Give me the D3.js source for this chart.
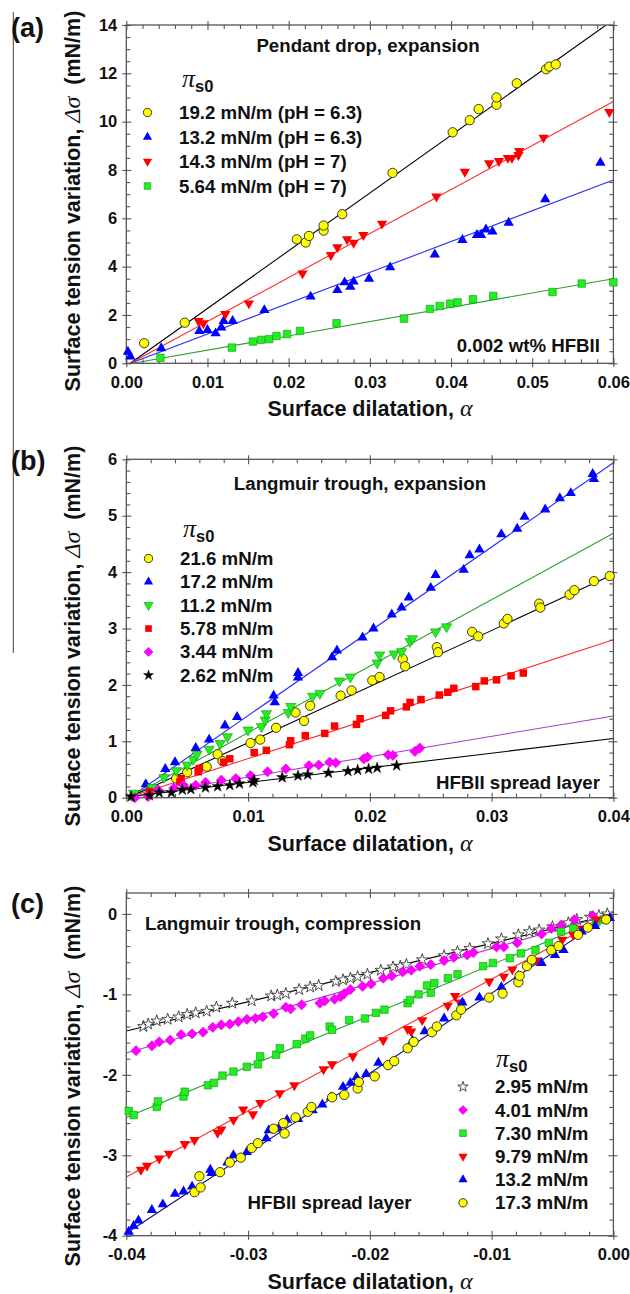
<!DOCTYPE html>
<html><head><meta charset="utf-8">
<script src="https://cdn.jsdelivr.net/npm/d3@7"></script>
<style>
body{margin:0;background:#fff}
svg{display:block}
text{font-family:"Liberation Sans",Arial,sans-serif;font-weight:bold;fill:#111}
</style>
</head><body><svg id="chart" width="630" height="1294"></svg>
<script>
// ---------------- DATA ----------------
// Panel (a): pendant drop, expansion
const aXTicks = [0, 0.01, 0.02, 0.03, 0.04, 0.05, 0.06];
const aYTicks = [0, 2, 4, 6, 8, 10, 12, 14];
const aLegend = ["19.2 mN/m (pH = 6.3)", "13.2 mN/m (pH = 6.3)", "14.3 mN/m (pH = 7)", "5.64 mN/m (pH = 7)"];
const aYellow = [[0.0022,0.83],[0.0072,1.68],[0.0210,5.13],[0.0221,5.0],[0.0225,5.27],[0.0243,5.49],[0.0243,5.7],[0.0266,6.17],[0.0328,7.88],[0.0402,9.56],[0.0423,10.06],[0.0434,10.52],[0.0456,10.7],[0.0456,11.0],[0.0481,11.59],[0.0517,12.17],[0.0521,12.28],[0.0529,12.37]];
const aBlue = [[0.0002,0.48],[0.0005,0.28],[0.0043,0.62],[0.0090,1.34],[0.0100,1.38],[0.0110,1.24],[0.0117,1.48],[0.0120,1.75],[0.0131,1.75],[0.0170,2.2],[0.0227,2.76],[0.0260,3.03],[0.0269,3.35],[0.0276,3.17],[0.0280,3.38],[0.0299,3.5],[0.0325,3.97],[0.0380,4.5],[0.0414,5.1],[0.0432,5.31],[0.0437,5.31],[0.0443,5.54],[0.0451,5.45],[0.0471,5.82],[0.0516,6.79],[0.0584,8.3]];
const aRed = [[0.0089,1.75],[0.0095,1.66],[0.0122,2.04],[0.0151,2.48],[0.0217,3.72],[0.0252,4.48],[0.0260,4.8],[0.0272,5.13],[0.0280,4.99],[0.0292,5.31],[0.0315,5.78],[0.0382,6.9],[0.0417,7.93],[0.0447,8.28],[0.0459,8.37],[0.0470,8.5],[0.0475,8.5],[0.0483,8.62],[0.0484,8.79],[0.0514,9.34],[0.0595,10.4]];
const aGreen = [[0.0042,0.23],[0.0130,0.65],[0.0156,0.9],[0.0166,0.97],[0.0176,1.0],[0.0185,1.13],[0.0198,1.21],[0.0214,1.34],[0.0259,1.66],[0.0342,1.85],[0.0374,2.25],[0.0386,2.37],[0.0399,2.47],[0.0408,2.52],[0.0427,2.65],[0.0452,2.79],[0.0525,2.95],[0.0561,3.3],[0.0600,3.35]];
// fit lines [x0, y0, x1, y1]
const aFitYellow = [0.0005, 0, 0.0591, 14];
const aFitBlue = [0.0005, 0, 0.06, 7.59];
const aFitRed = [0.0005, 0, 0.06, 10.83];
const aFitGreen = [0.0008, 0, 0.06, 3.5];

// Panel (b): Langmuir trough, expansion
const bXTicks = [0, 0.01, 0.02, 0.03, 0.04];
const bYTicks = [0, 1, 2, 3, 4, 5, 6];
const bLegend = ["21.6 mN/m", "17.2 mN/m", "11.2 mN/m", "5.78 mN/m", "3.44 mN/m", "2.62 mN/m"];
const bYellow = [[0.0006,0.02],[0.0041,0.34],[0.0050,0.45],[0.0066,0.55],[0.0075,0.77],[0.0079,0.65],[0.0102,0.97],[0.0110,1.03],[0.0123,1.24],[0.0139,1.51],[0.0146,1.36],[0.0151,1.63],[0.0176,1.81],[0.0185,1.9],[0.0202,2.08],[0.0208,2.14],[0.0227,2.46],[0.0229,2.33],[0.0255,2.67],[0.0256,2.58],[0.0284,2.94],[0.0289,2.86],[0.0310,3.09],[0.0313,3.17],[0.0339,3.44],[0.0340,3.37],[0.0364,3.6],[0.0368,3.68],[0.0384,3.84],[0.0397,3.93]];
const bBlue = [[0.0016,0.24],[0.0032,0.51],[0.0040,0.63],[0.0057,0.88],[0.0068,1.03],[0.0081,1.28],[0.0091,1.43],[0.0121,1.81],[0.0122,1.69],[0.0141,2.21],[0.0141,2.13],[0.0169,2.49],[0.0173,2.61],[0.0194,2.84],[0.0203,3.0],[0.0218,3.25],[0.0226,3.37],[0.0232,3.55],[0.0250,3.72],[0.0254,3.95],[0.0277,4.04],[0.0282,4.3],[0.0290,4.4],[0.0308,4.67],[0.0321,4.77],[0.0327,4.98],[0.0344,5.11],[0.0356,5.31],[0.0365,5.4],[0.0383,5.74],[0.0384,5.65]];
const bGreen = [[0.0006,0.08],[0.0021,0.18],[0.0031,0.36],[0.0041,0.48],[0.0050,0.58],[0.0055,0.68],[0.0058,0.77],[0.0068,0.86],[0.0077,0.96],[0.0083,1.08],[0.0100,1.2],[0.0111,1.26],[0.0114,1.38],[0.0115,1.49],[0.0133,1.51],[0.0135,1.62],[0.0153,1.8],[0.0159,1.85],[0.0175,2.07],[0.0184,2.14],[0.0206,2.39],[0.0208,2.53],[0.0220,2.55],[0.0226,2.59],[0.0233,2.77],[0.0235,2.82],[0.0254,2.94],[0.0263,3.03]];
const bRed = [[0.0019,0.11],[0.0044,0.28],[0.0045,0.34],[0.0059,0.46],[0.0060,0.52],[0.0080,0.63],[0.0085,0.69],[0.0105,0.8],[0.0115,0.84],[0.0134,0.94],[0.0135,1.01],[0.0147,1.1],[0.0163,1.14],[0.0171,1.27],[0.0189,1.3],[0.0192,1.4],[0.0213,1.46],[0.0217,1.54],[0.0230,1.61],[0.0233,1.69],[0.0242,1.74],[0.0257,1.82],[0.0264,1.87],[0.0269,1.94],[0.0287,1.97],[0.0294,2.07],[0.0304,2.09],[0.0316,2.16],[0.0326,2.21]];
const bMagenta = [[0.0007,0.0],[0.0018,0.02],[0.0026,0.14],[0.0039,0.17],[0.0047,0.22],[0.0057,0.22],[0.0065,0.27],[0.0078,0.31],[0.0090,0.34],[0.0102,0.39],[0.0116,0.46],[0.0131,0.51],[0.0150,0.57],[0.0158,0.58],[0.0167,0.63],[0.0172,0.62],[0.0195,0.69],[0.0198,0.72],[0.0215,0.76],[0.0219,0.75],[0.0237,0.82],[0.0241,0.88]];
const bBlack = [[0.0004,0.02],[0.0019,0.04],[0.0027,0.09],[0.0037,0.09],[0.0046,0.14],[0.0053,0.15],[0.0065,0.18],[0.0075,0.2],[0.0085,0.22],[0.0093,0.25],[0.0104,0.27],[0.0105,0.31],[0.0128,0.36],[0.0141,0.39],[0.0149,0.41],[0.0166,0.44],[0.0182,0.47],[0.0190,0.49],[0.0199,0.51],[0.0206,0.53],[0.0222,0.57]];
const bFitYellow = [0.0004, 0.02, 0.04, 3.96];
const bFitBlue = [0.0004, 0.02, 0.04, 5.94];
const bFitGreen = [0.0004, 0.02, 0.04, 4.69];
const bFitRed = [0.0004, 0.02, 0.04, 2.80];
const bFitMagenta = [0.0004, 0.02, 0.04, 1.45];
const bFitBlack = [0.0004, 0.02, 0.04, 1.05];

// Panel (c): Langmuir trough, compression
const cXTicks = [-0.04, -0.03, -0.02, -0.01, 0];
const cYTicks = [-4, -3, -2, -1, 0];
const cLegend = ["2.95 mN/m", "4.01 mN/m", "7.30 mN/m", "9.79 mN/m", "13.2 mN/m", "17.3 mN/m"];
const cStar = [[-0.0386,-1.40],[-0.0382,-1.37],[-0.0375,-1.33],[-0.0366,-1.31],[-0.0357,-1.28],[-0.0350,-1.25],[-0.0343,-1.23],[-0.0334,-1.21],[-0.0326,-1.16],[-0.0313,-1.11],[-0.0297,-1.08],[-0.0281,-1.02],[-0.0276,-1.01],[-0.0269,-0.99],[-0.0258,-0.94],[-0.0249,-0.91],[-0.0242,-0.89],[-0.0228,-0.84],[-0.0222,-0.82],[-0.0216,-0.80],[-0.0210,-0.78],[-0.0202,-0.75],[-0.0191,-0.70],[-0.0181,-0.66],[-0.0175,-0.65],[-0.0170,-0.63],[-0.0157,-0.57],[-0.0139,-0.52],[-0.0128,-0.47],[-0.0118,-0.43],[-0.0103,-0.37],[-0.0092,-0.31],[-0.0078,-0.26],[-0.0069,-0.22],[-0.0061,-0.20],[-0.0050,-0.16],[-0.0037,-0.11],[-0.0030,-0.07],[-0.0019,-0.04],[-0.0012,-0.02],[-0.0005,0.0]];
const cMagenta = [[-0.0392,-1.70],[-0.0379,-1.64],[-0.0373,-1.59],[-0.0364,-1.57],[-0.0355,-1.50],[-0.0346,-1.49],[-0.0337,-1.47],[-0.0329,-1.41],[-0.0322,-1.38],[-0.0315,-1.37],[-0.0308,-1.34],[-0.0301,-1.31],[-0.0294,-1.30],[-0.0288,-1.28],[-0.0279,-1.24],[-0.0269,-1.16],[-0.0265,-1.18],[-0.0256,-1.13],[-0.0241,-1.11],[-0.0237,-1.08],[-0.0229,-1.06],[-0.0224,-1.03],[-0.0221,-0.99],[-0.0216,-0.94],[-0.0206,-0.90],[-0.0199,-0.87],[-0.0189,-0.80],[-0.0182,-0.77],[-0.0173,-0.72],[-0.0166,-0.70],[-0.0159,-0.65],[-0.0150,-0.63],[-0.0139,-0.58],[-0.0131,-0.54],[-0.0120,-0.51],[-0.0115,-0.48],[-0.0096,-0.41],[-0.0090,-0.41],[-0.0079,-0.36],[-0.0059,-0.25],[-0.0051,-0.18],[-0.0043,-0.14],[-0.0032,-0.07],[-0.0017,-0.02]];
const cGreen = [[-0.0398,-2.45],[-0.0394,-2.50],[-0.0375,-2.40],[-0.0374,-2.33],[-0.0353,-2.27],[-0.0352,-2.21],[-0.0333,-2.13],[-0.0328,-2.10],[-0.0321,-2.01],[-0.0312,-1.96],[-0.0301,-1.90],[-0.0292,-1.87],[-0.0290,-1.77],[-0.0277,-1.75],[-0.0274,-1.67],[-0.0260,-1.62],[-0.0253,-1.55],[-0.0249,-1.51],[-0.0233,-1.40],[-0.0231,-1.44],[-0.0217,-1.32],[-0.0204,-1.30],[-0.0195,-1.23],[-0.0188,-1.19],[-0.0169,-1.11],[-0.0167,-1.07],[-0.0160,-1.00],[-0.0150,-0.98],[-0.0153,-0.89],[-0.0147,-0.86],[-0.0136,-0.80],[-0.0128,-0.75],[-0.0107,-0.65],[-0.0099,-0.61],[-0.0085,-0.55],[-0.0076,-0.49],[-0.0064,-0.45],[-0.0053,-0.36],[-0.0043,-0.22],[-0.0033,-0.18],[-0.0014,-0.10],[-0.0008,-0.07]];
const cRed = [[-0.0388,-3.18],[-0.0383,-3.13],[-0.0373,-3.04],[-0.0365,-2.98],[-0.0352,-2.86],[-0.0344,-2.81],[-0.0325,-2.72],[-0.0322,-2.68],[-0.0312,-2.56],[-0.0304,-2.43],[-0.0296,-2.49],[-0.0290,-2.35],[-0.0274,-2.23],[-0.0262,-2.13],[-0.0238,-1.93],[-0.0231,-1.87],[-0.0214,-1.77],[-0.0189,-1.57],[-0.0169,-1.43],[-0.0166,-1.46],[-0.0157,-1.32],[-0.0136,-1.14],[-0.0130,-1.02],[-0.0126,-1.10],[-0.0102,-0.84],[-0.0090,-0.78],[-0.0083,-0.69],[-0.0063,-0.58],[-0.0042,-0.32],[-0.0033,-0.26],[-0.0026,-0.18],[-0.0014,-0.07],[-0.0004,-0.04]];
const cBlue = [[-0.0398,-3.95],[-0.0394,-3.88],[-0.0390,-3.81],[-0.0379,-3.68],[-0.0370,-3.61],[-0.0360,-3.48],[-0.0353,-3.45],[-0.0346,-3.39],[-0.0331,-3.18],[-0.0330,-3.22],[-0.0317,-3.09],[-0.0312,-3.00],[-0.0301,-2.96],[-0.0285,-2.79],[-0.0283,-2.69],[-0.0275,-2.67],[-0.0268,-2.56],[-0.0259,-2.55],[-0.0247,-2.44],[-0.0239,-2.37],[-0.0232,-2.28],[-0.0222,-2.15],[-0.0216,-2.10],[-0.0211,-2.03],[-0.0203,-1.99],[-0.0193,-1.85],[-0.0165,-1.58],[-0.0155,-1.46],[-0.0139,-1.30],[-0.0124,-1.10],[-0.0110,-1.04],[-0.0092,-0.91],[-0.0078,-0.77],[-0.0059,-0.61],[-0.0048,-0.51],[-0.0041,-0.45],[-0.0026,-0.22],[-0.0015,-0.15],[-0.0003,-0.05]];
const cYellow = [[-0.0344,-3.46],[-0.0339,-3.40],[-0.0340,-3.26],[-0.0323,-3.21],[-0.0315,-3.09],[-0.0306,-3.03],[-0.0297,-2.91],[-0.0292,-2.85],[-0.0279,-2.67],[-0.0271,-2.60],[-0.0270,-2.73],[-0.0261,-2.53],[-0.0251,-2.46],[-0.0248,-2.40],[-0.0231,-2.28],[-0.0221,-2.25],[-0.0210,-2.17],[-0.0209,-2.09],[-0.0196,-2.02],[-0.0185,-1.88],[-0.0180,-1.83],[-0.0169,-1.67],[-0.0164,-1.59],[-0.0149,-1.47],[-0.0145,-1.40],[-0.0129,-1.26],[-0.0125,-1.19],[-0.0102,-1.04],[-0.0091,-0.99],[-0.0078,-0.85],[-0.0077,-0.77],[-0.0071,-0.65],[-0.0067,-0.57],[-0.0051,-0.45],[-0.0045,-0.40],[-0.0029,-0.26],[-0.0021,-0.17],[-0.0006,-0.07]];
const cFitStar = [-0.04, -1.455, -0.0005, -0.02];
const cFitMagenta = [-0.04, -1.73, -0.0005, -0.02];
const cFitGreen = [-0.04, -2.53, -0.0005, -0.03];
const cFitRed = [-0.04, -3.27, -0.0005, -0.03];
const cFitBlue = [-0.04, -3.97, -0.0005, -0.04];

// ---------------- STYLES ----------------
const ST = {
  circle:  {shape: d3.symbolCircle,   size: 68, rot: 0,   fill: "#ffff00", stroke: "#222", sw: 0.9},
  up:      {shape: d3.symbolTriangle, size: 46, rot: 0,   fill: "#0000ff", stroke: "none", sw: 0},
  downR:   {shape: d3.symbolTriangle, size: 46, rot: 180, fill: "#ff0000", stroke: "none", sw: 0},
  downG:   {shape: d3.symbolTriangle, size: 46, rot: 180, fill: "#22ee22", stroke: "#119911", sw: 0.6},
  squareG: {shape: d3.symbolSquare,   size: 56, rot: 0,   fill: "#22ee22", stroke: "#119911", sw: 0.6},
  squareR: {shape: d3.symbolSquare,   size: 56, rot: 0,   fill: "#ff0000", stroke: "none", sw: 0},
  diamond: {shape: d3.symbolSquare,   size: 52, rot: 45,  fill: "#ff00ff", stroke: "#cc00cc", sw: 0.5},
  starF:   {shape: d3.symbolStar,     size: 40, rot: 0,   fill: "#000", stroke: "#000", sw: 0.4},
  starO:   {shape: d3.symbolStar,     size: 42, rot: 0,   fill: "#fff", stroke: "#222", sw: 0.8}
};
const LC = {black: "#000", red: "#ff2a2a", blue: "#2a2aff", green: "#2aa02a", magenta: "#a63cd0", navy: "#0a0a60"};

const svg = d3.select("#chart");
const X0 = 126.3, X1 = 613.4;

// thin scan line at left
svg.append("line").attr("x1", 13.3).attr("x2", 13.3).attr("y1", 12).attr("y2", 653)
  .attr("stroke", "#444").attr("stroke-width", 1);

function fmtX(d) { return d.toFixed(2); }
function fmtY(d) { return String(d); }

function panel(p) {
  const x = d3.scaleLinear().domain(p.xDom).range([X0, X1]);
  const y = d3.scaleLinear().domain(p.yDom).range([p.yBot, p.yTop]);
  const g = svg.append("g");
  const id = "clip" + p.key;
  g.append("clipPath").attr("id", id).append("rect")
    .attr("x", X0).attr("y", p.yTop).attr("width", X1 - X0).attr("height", p.yBot - p.yTop);

  // fit lines
  const lg = g.append("g").attr("clip-path", `url(#${id})`);
  p.fits.forEach(f => {
    lg.append("line").attr("x1", x(f.d[0])).attr("y1", y(f.d[1])).attr("x2", x(f.d[2])).attr("y2", y(f.d[3]))
      .attr("stroke", f.c).attr("stroke-width", 1.1);
  });

  // axes
  const tickCol = "#555";
  const xMin = d3.range(p.xDom[0], p.xDom[1] + 1e-9, p.xMinStep).filter(v => !p.xTicks.some(t => Math.abs(t - v) < 1e-9));
  const yMin = d3.range(p.yMinStart, p.yDom[1] + 1e-9, p.yMinStep).filter(v => !p.yTicks.some(t => Math.abs(t - v) < 1e-9));

  const bot = g.append("g").attr("transform", `translate(0,${p.yBot})`)
    .call(d3.axisBottom(x).tickValues(p.xTicks).tickSize(4).tickPadding(9).tickFormat(fmtX));
  bot.selectAll(".tick line").attr("y1", -5);
  g.append("g").attr("transform", `translate(0,${p.yBot})`)
    .call(d3.axisBottom(x).tickValues(xMin).tickSize(-4).tickFormat(""));
  const top = g.append("g").attr("transform", `translate(0,${p.yTop})`)
    .call(d3.axisTop(x).tickValues(p.xTicks).tickSize(4).tickFormat(""));
  top.selectAll(".tick line").attr("y1", 5);
  g.append("g").attr("transform", `translate(0,${p.yTop})`)
    .call(d3.axisTop(x).tickValues(xMin).tickSize(-4).tickFormat(""));
  const left = g.append("g").attr("transform", `translate(${X0},0)`)
    .call(d3.axisLeft(y).tickValues(p.yTicks).tickSize(4).tickPadding(5).tickFormat(fmtY));
  left.selectAll(".tick line").attr("x1", 5);
  g.append("g").attr("transform", `translate(${X0},0)`)
    .call(d3.axisLeft(y).tickValues(yMin).tickSize(-4).tickFormat(""));
  const right = g.append("g").attr("transform", `translate(${X1},0)`)
    .call(d3.axisRight(y).tickValues(p.yTicks).tickSize(4).tickFormat(""));
  right.selectAll(".tick line").attr("x1", -5);
  g.append("g").attr("transform", `translate(${X1},0)`)
    .call(d3.axisRight(y).tickValues(yMin).tickSize(-4).tickFormat(""));
  g.selectAll(".domain").remove();
  g.selectAll(".tick line").attr("stroke", tickCol).attr("stroke-width", 1.1);
  g.selectAll(".tick text").attr("font-size", 16.5).attr("font-family", "Liberation Sans, Arial, sans-serif")
    .attr("font-weight", "bold").attr("fill", "#111");
  g.append("rect").attr("x", X0).attr("y", p.yTop).attr("width", X1 - X0).attr("height", p.yBot - p.yTop)
    .attr("fill", "none").attr("stroke", tickCol).attr("stroke-width", 1.3);

  // points
  p.series.forEach(s => {
    const st = ST[s.st];
    const sym = d3.symbol().type(st.shape).size(st.size);
    g.append("g").selectAll("path").data(s.d).join("path")
      .attr("d", sym)
      .attr("transform", d => `translate(${x(d[0])},${y(d[1])}) rotate(${st.rot})`)
      .attr("fill", st.fill).attr("stroke", st.stroke).attr("stroke-width", st.sw);
  });

  // legend
  const L = p.legend;
  const pi = g.append("text").attr("x", L.piX).attr("y", L.piY);
  pi.append("tspan").text("π").attr("font-family", "Liberation Serif, Times New Roman, serif")
    .attr("font-style", "italic").attr("font-weight", "normal").attr("font-size", 26);
  pi.append("tspan").text("s0").attr("font-size", 16.5).attr("dy", 5);
  p.series.forEach((s, i) => {
    const st = ST[s.st];
    const cy = L.y0 + i * L.dy;
    g.append("path").attr("d", d3.symbol().type(st.shape).size(st.size * 0.8))
      .attr("transform", `translate(${L.mx},${cy - 6.5}) rotate(${st.rot})`)
      .attr("fill", st.fill).attr("stroke", st.stroke).attr("stroke-width", st.sw);
    g.append("text").attr("x", L.tx).attr("y", cy).attr("font-size", 18.7).text(s.label);
  });

  // annotations
  p.notes.forEach(n => {
    g.append("text").attr("x", n.x).attr("y", n.y).attr("text-anchor", n.a).attr("font-size", 18.7).text(n.t);
  });

  // axis titles
  const xl = g.append("text").attr("x", 370).attr("y", p.yBot + 53).attr("text-anchor", "middle").attr("font-size", 21.5);
  xl.append("tspan").text("Surface dilatation, ");
  xl.append("tspan").text("α").attr("font-family", "Liberation Serif, Times New Roman, serif")
    .attr("font-style", "italic").attr("font-weight", "normal").attr("font-size", 24);
  const yl = g.append("text").attr("transform", `translate(80,${p.ylY}) rotate(-90)`)
    .attr("text-anchor", "middle").attr("font-size", 21.5);
  yl.append("tspan").text("Surface tension variation, ");
  yl.append("tspan").text("Δσ").attr("font-family", "Liberation Serif, Times New Roman, serif")
    .attr("font-style", "italic").attr("font-weight", "normal").attr("font-size", 24);
  yl.append("tspan").text("\u00a0\u00a0(mN/m)");

  // panel label
  g.append("text").attr("x", 11).attr("y", p.labY).attr("font-size", 27).text(p.label);
}

panel({
  key: "a", label: "(a)", labY: 36.5,
  xDom: [0, 0.06], yDom: [0, 14], yTop: 25, yBot: 363.3,
  xTicks: aXTicks, yTicks: aYTicks, xMinStep: 0.002, yMinStart: 0, yMinStep: 0.5, ylY: 201,
  fits: [{d: aFitYellow, c: LC.black}, {d: aFitRed, c: LC.red}, {d: aFitBlue, c: LC.blue}, {d: aFitGreen, c: LC.green}],
  series: [
    {d: aYellow, st: "circle", label: aLegend[0]},
    {d: aBlue, st: "up", label: aLegend[1]},
    {d: aRed, st: "downR", label: aLegend[2]},
    {d: aGreen, st: "squareG", label: aLegend[3]}
  ],
  legend: {piX: 182, piY: 87, mx: 147.5, tx: 179, y0: 119, dy: 24.5},
  notes: [{x: 368, y: 52, a: "middle", t: "Pendant drop, expansion"}, {x: 600, y: 351.5, a: "end", t: "0.002 wt% HFBII"}]
});

panel({
  key: "b", label: "(b)", labY: 469.5,
  xDom: [0, 0.04], yDom: [0, 6], yTop: 459.3, yBot: 797.7,
  xTicks: bXTicks, yTicks: bYTicks, xMinStep: 0.002, yMinStart: 0, yMinStep: 0.2, ylY: 636,
  fits: [{d: bFitBlue, c: LC.blue}, {d: bFitGreen, c: LC.green}, {d: bFitYellow, c: LC.black}, {d: bFitRed, c: LC.red}, {d: bFitMagenta, c: LC.magenta}, {d: bFitBlack, c: LC.black}],
  series: [
    {d: bYellow, st: "circle", label: bLegend[0]},
    {d: bBlue, st: "up", label: bLegend[1]},
    {d: bGreen, st: "downG", label: bLegend[2]},
    {d: bRed, st: "squareR", label: bLegend[3]},
    {d: bMagenta, st: "diamond", label: bLegend[4]},
    {d: bBlack, st: "starF", label: bLegend[5]}
  ],
  legend: {piX: 183, piY: 536.5, mx: 148.5, tx: 180, y0: 565, dy: 23.35},
  notes: [{x: 360, y: 490, a: "middle", t: "Langmuir trough, expansion"}, {x: 600, y: 789, a: "end", t: "HFBII spread layer"}]
});

panel({
  key: "c", label: "(c)", labY: 912.5,
  xDom: [-0.04, 0], yDom: [-4, 0.26], yTop: 893, yBot: 1235.7,
  xTicks: cXTicks, yTicks: cYTicks, xMinStep: 0.002, yMinStart: -4, yMinStep: 0.2, ylY: 1076,
  fits: [{d: cFitStar, c: LC.black}, {d: cFitMagenta, c: LC.magenta}, {d: cFitGreen, c: LC.green}, {d: cFitRed, c: LC.red}, {d: cFitBlue, c: LC.navy}],
  series: [
    {d: cStar, st: "starO", label: cLegend[0]},
    {d: cMagenta, st: "diamond", label: cLegend[1]},
    {d: cGreen, st: "squareG", label: cLegend[2]},
    {d: cRed, st: "downR", label: cLegend[3]},
    {d: cBlue, st: "up", label: cLegend[4]},
    {d: cYellow, st: "circle", label: cLegend[5]}
  ],
  legend: {piX: 496, piY: 1066.5, mx: 463, tx: 495, y0: 1093.3, dy: 23.2},
  notes: [{x: 145, y: 930, a: "start", t: "Langmuir trough, compression"}, {x: 247.5, y: 1209, a: "start", t: "HFBII spread layer"}]
});
</script></body></html>
